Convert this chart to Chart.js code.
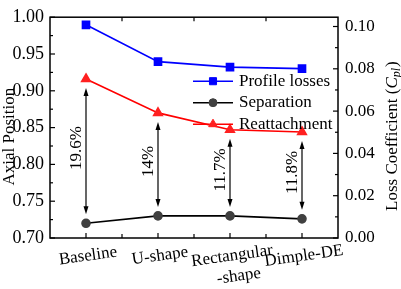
<!DOCTYPE html>
<html>
<head>
<meta charset="utf-8">
<script src="https://cdn.jsdelivr.net/npm/chart.js"></script>
<style>
  html, body { margin: 0; padding: 0; background: #fff; }
  #wrap { width: 401px; height: 289px; }
</style>
</head>
<body>
<div id="wrap"><canvas id="chart" width="401" height="289"></canvas></div>
<script>
const categories = ['Baseline', 'U-shape', ['Rectangular', '-shape'], 'Dimple-DE'];
const profileLosses = [0.1008, 0.0834, 0.0808, 0.0801];
const separation = [0.720, 0.730, 0.730, 0.726];
const reattachment = [0.916, 0.870, 0.847, 0.844];
const gapLabels = ['19.6%', '14%', '11.7%', '11.8%'];
const seriesNames = ['Profile losses', 'Separation', 'Reattachment'];

const FONT = '"Liberation Serif", "Times New Roman", serif';

// frame, inward ticks, arrows, rotated labels, titles and the legend
const decor = {
    id: 'decor',
    afterDatasetsDraw(chart) {
        const ctx = chart.ctx;
        const xs = chart.scales.x, yl = chart.scales.y;

        // arrows between separation and reattachment
        ctx.save();
        ctx.strokeStyle = '#000';
        ctx.fillStyle = '#000';
        ctx.lineWidth = 1.2;
        categories.forEach((c, i) => {
            const x = xs.getPixelForValue(i);
            const yA = yl.getPixelForValue(reattachment[i]) + 9;
            const yB = yl.getPixelForValue(separation[i]) - 9;
            ctx.beginPath();
            ctx.moveTo(x, yA + 5);
            ctx.lineTo(x, yB - 5);
            ctx.stroke();
            ctx.beginPath();
            ctx.moveTo(x, yA); ctx.lineTo(x - 2.5, yA + 8); ctx.lineTo(x + 2.5, yA + 8);
            ctx.closePath(); ctx.fill();
            ctx.beginPath();
            ctx.moveTo(x, yB); ctx.lineTo(x - 2.5, yB - 8); ctx.lineTo(x + 2.5, yB - 8);
            ctx.closePath(); ctx.fill();

            ctx.save();
            ctx.translate(x - 9, (yA + yB) / 2 - 3);
            ctx.rotate(-Math.PI / 2);
            ctx.font = '17px ' + FONT;
            ctx.textAlign = 'center';
            ctx.textBaseline = 'middle';
            ctx.fillText(gapLabels[i], 0, 0);
            ctx.restore();
        });
        ctx.restore();
    },
    afterDraw(chart) {
        const ctx = chart.ctx;
        const area = chart.chartArea;
        const xs = chart.scales.x, yl = chart.scales.y, yr = chart.scales.y1;

        ctx.save();
        ctx.strokeStyle = '#000';
        ctx.lineWidth = 1.5;
        ctx.strokeRect(area.left, area.top, area.right - area.left, area.bottom - area.top);

        ctx.lineWidth = 1.2;
        const tick = (x1, y1, x2, y2) => { ctx.beginPath(); ctx.moveTo(x1, y1); ctx.lineTo(x2, y2); ctx.stroke(); };

        // left axis ticks
        yl.ticks.forEach((t, k) => {
            const y = yl.getPixelForValue(t.value);
            tick(area.left, y, area.left + 5, y);
            if (k < yl.ticks.length - 1) {
                const ym = yl.getPixelForValue((t.value + yl.ticks[k + 1].value) / 2);
                tick(area.left, ym, area.left + 3, ym);
            }
        });
        // right axis ticks
        yr.ticks.forEach((t, k) => {
            const y = yr.getPixelForValue(t.value);
            tick(area.right, y, area.right - 5, y);
            if (k < yr.ticks.length - 1) {
                const ym = yr.getPixelForValue((t.value + yr.ticks[k + 1].value) / 2);
                tick(area.right, ym, area.right - 3, ym);
            }
        });
        // x ticks
        categories.forEach((c, i) => {
            const x = xs.getPixelForValue(i);
            tick(x, area.bottom, x, area.bottom - 5);
            if (i < categories.length - 1) {
                const xm = (x + xs.getPixelForValue(i + 1)) / 2;
                tick(xm, area.bottom, xm, area.bottom - 4);
                tick(xm, area.top, xm, area.top + 4);
            }
        });

        // x labels, slightly tilted
        ctx.fillStyle = '#000';
        ctx.font = '17px ' + FONT;
        ctx.textAlign = 'center';
        ctx.textBaseline = 'middle';
        categories.forEach((c, i) => {
            const lines = Array.isArray(c) ? c : [c];
            ctx.save();
            ctx.translate(xs.getPixelForValue(i) + 2, area.bottom + 18);
            ctx.rotate(-8 * Math.PI / 180);
            lines.forEach((l, j) => ctx.fillText(l, j * 4, j * 21));
            ctx.restore();
        });

        // axis titles
        const midY = (area.top + area.bottom) / 2 + 9;
        ctx.save();
        ctx.translate(10, midY);
        ctx.rotate(-Math.PI / 2);
        ctx.fillText('Axial Position', 0, 0);
        ctx.restore();

        ctx.save();
        ctx.translate(chart.width - 8, midY);
        ctx.rotate(-Math.PI / 2);
        ctx.textAlign = 'left';
        const partA = 'Loss Coefficient (';
        const fA = '17px ' + FONT, fC = 'italic 17px ' + FONT, fS = 'italic 12px ' + FONT;
        ctx.font = fA; const wA = ctx.measureText(partA).width;
        ctx.font = fC; const wC = ctx.measureText('C').width;
        ctx.font = fS; const wS = ctx.measureText('pl').width;
        ctx.font = fA; const wP = ctx.measureText(')').width;
        let px = -(wA + wC + wS + wP) / 2;
        ctx.font = fA; ctx.fillText(partA, px, 0); px += wA;
        ctx.font = fC; ctx.fillText('C', px, 0); px += wC;
        ctx.font = fS; ctx.fillText('pl', px, 4); px += wS + 1;
        ctx.font = fA; ctx.fillText(')', px, 0);
        ctx.restore();

        // legend
        const lx = area.right - 145;
        chart.data.datasets.forEach((ds, i) => {
            const y = area.top + 64 + i * 21.5;
            ctx.strokeStyle = ds.borderColor;
            ctx.lineWidth = 1.5;
            tick(lx, y, lx + 40, y);
            ctx.fillStyle = ds.pointBackgroundColor;
            ctx.strokeStyle = ds.pointBorderColor;
            ctx.lineWidth = 1;
            Chart.helpers.drawPoint(ctx, { pointStyle: ds.pointStyle, radius: ds.pointRadius, rotation: 0, borderWidth: 1 }, lx + 20, y);
            ctx.fillStyle = '#000';
            ctx.font = '17px ' + FONT;
            ctx.textAlign = 'left';
            ctx.fillText(ds.label, lx + 46, y);
        });
        ctx.restore();
    }
};

new Chart(document.getElementById('chart'), {
    type: 'line',
    data: {
        labels: categories,
        datasets: [
            {
                label: seriesNames[0], data: profileLosses, yAxisID: 'y1',
                borderColor: '#0000ff', borderWidth: 1.6,
                pointStyle: 'rect', pointRadius: 5,
                pointBackgroundColor: '#0000ff', pointBorderColor: '#0000ff'
            },
            {
                label: seriesNames[1], data: separation, yAxisID: 'y',
                borderColor: '#000000', borderWidth: 1.6,
                pointStyle: 'circle', pointRadius: 4,
                pointBackgroundColor: '#404040', pointBorderColor: '#404040'
            },
            {
                label: seriesNames[2], data: reattachment, yAxisID: 'y',
                borderColor: '#ff0000', borderWidth: 1.6,
                pointStyle: 'triangle', pointRadius: 5,
                pointBackgroundColor: '#ff2020', pointBorderColor: '#ff2020'
            }
        ]
    },
    options: {
        responsive: false,
        animation: false,
        devicePixelRatio: 1,
        layout: { padding: { top: 6, left: 0, right: 0, bottom: 0 } },
        plugins: { legend: { display: false }, tooltip: { enabled: false } },
        scales: {
            x: {
                offset: true,
                grid: { display: false, drawTicks: false },
                border: { display: false },
                ticks: { display: false },
                afterFit(s) { s.height = 51; }
            },
            y: {
                position: 'left',
                min: 0.70, max: 1.00,
                grid: { display: false, drawTicks: false },
                border: { display: false },
                ticks: {
                    stepSize: 0.05, includeBounds: false, padding: 6, color: '#000',
                    font: { family: FONT, size: 18 },
                    callback: v => v.toFixed(2)
                },
                afterFit(s) { s.width = 50; }
            },
            y1: {
                position: 'right',
                min: 0, max: 0.1044,
                grid: { display: false, drawTicks: false },
                border: { display: false },
                ticks: {
                    stepSize: 0.02, includeBounds: false, padding: 7, color: '#000',
                    font: { family: FONT, size: 17 },
                    callback: v => v.toFixed(2)
                },
                afterFit(s) { s.width = 63; }
            }
        }
    },
    plugins: [decor]
});
</script>
</body>
</html>
